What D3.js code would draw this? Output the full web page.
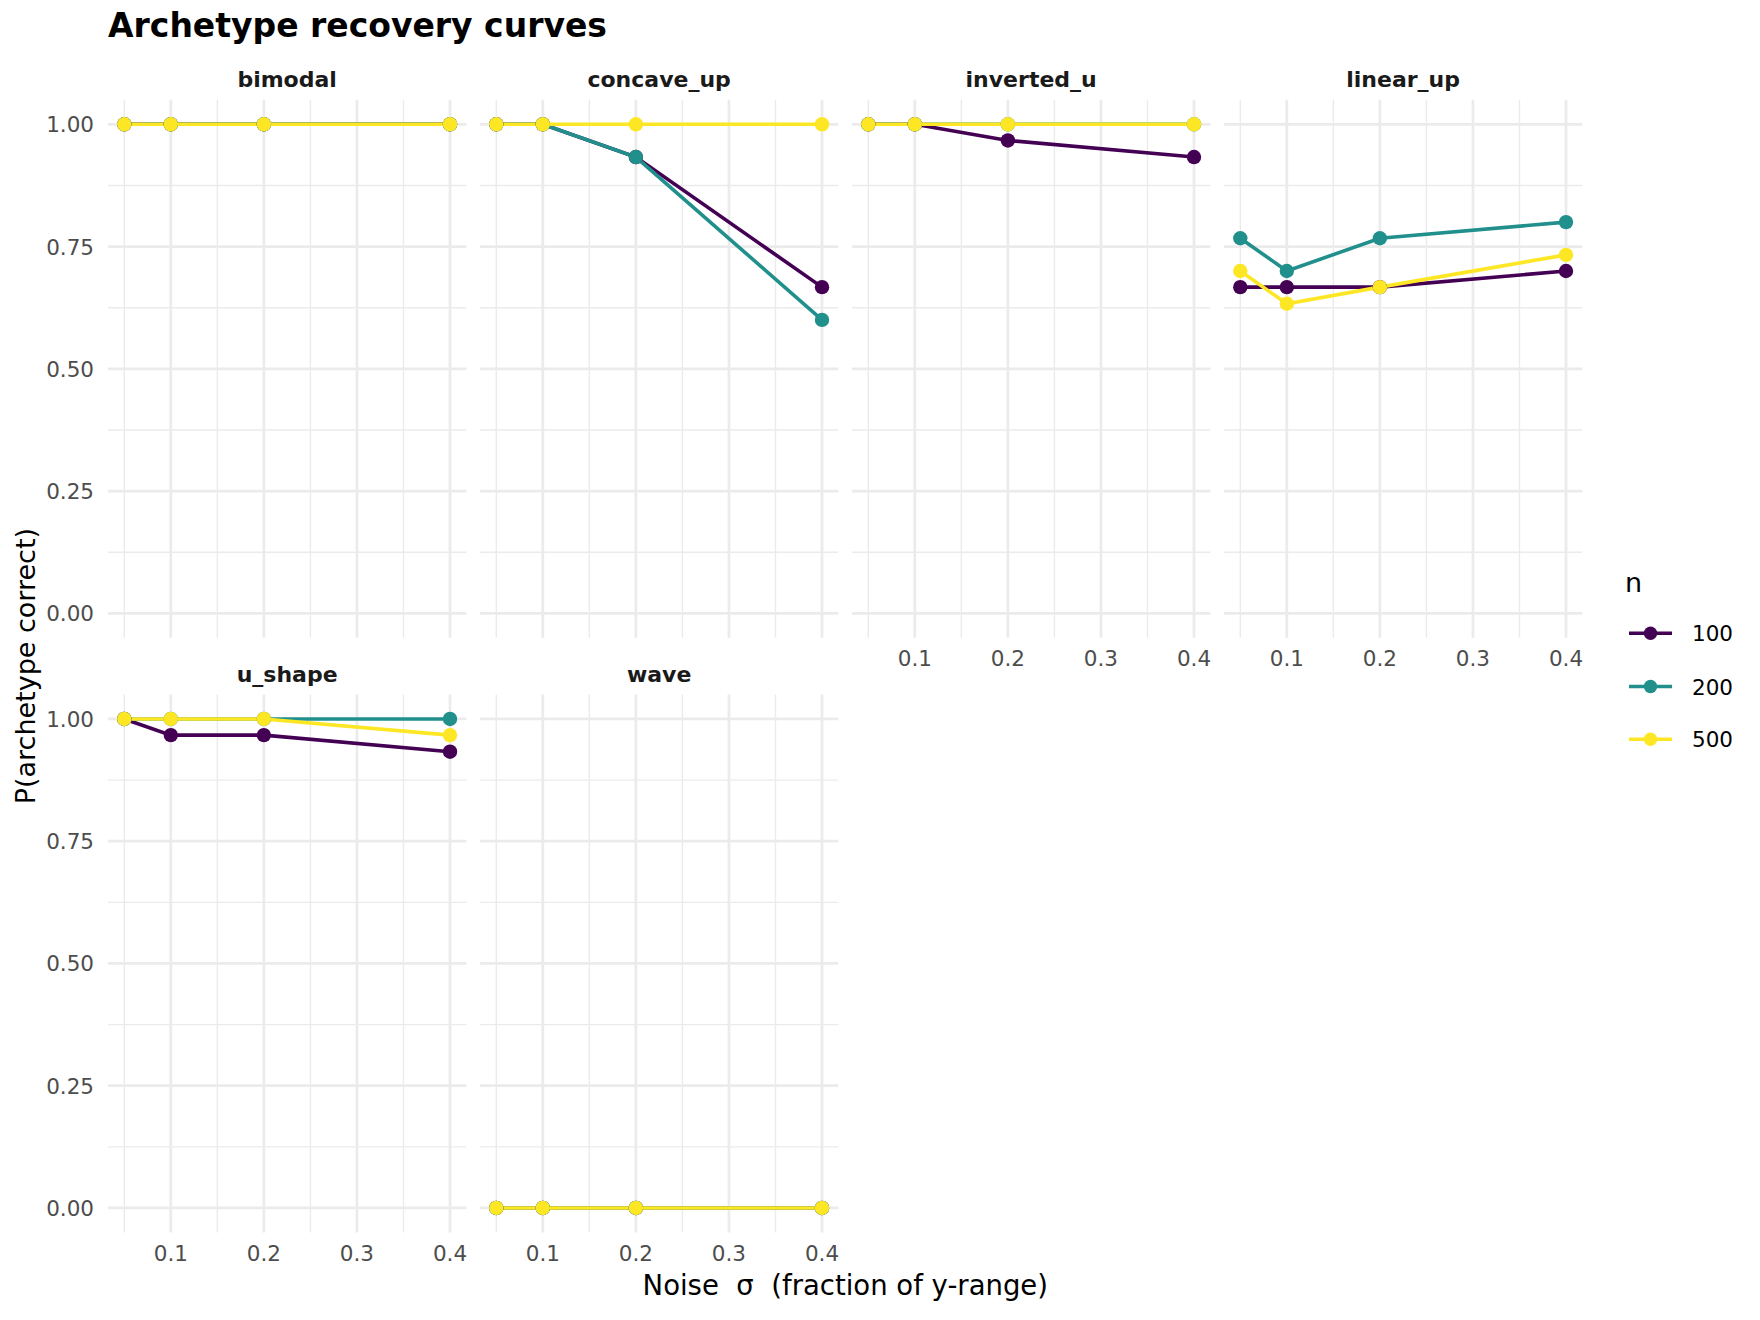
<!DOCTYPE html>
<meta charset="utf-8">
<style>
body {
  margin: 0;
  padding: 0;
  background: #fff;
}
text {
  font-family: "DejaVu Sans", sans-serif;
}
</style>
<body>
<script src="https://cdn.jsdelivr.net/npm/d3@7"></script>
<script>

// values
var archetypes = ["bimodal", "concave_up", "inverted_u", "linear_up", "u_shape", "wave"];
var sigma = [0.05, 0.1, 0.2, 0.4];
var nLevels = ["100", "200", "500"];
var nColors = ["#440154", "#21908C", "#FDE725"];

// one row per n (100, 200, 500), one value per sigma
var bimodal    = [[1, 1, 1, 1], [1, 1, 1, 1], [1, 1, 1, 1]];
var concave_up = [[1, 1, 0.933, 0.667], [1, 1, 0.933, 0.6], [1, 1, 1, 1]];
var inverted_u = [[1, 1, 0.967, 0.933], [1, 1, 1, 1], [1, 1, 1, 1]];
var linear_up  = [[0.667, 0.667, 0.667, 0.7], [0.767, 0.7, 0.767, 0.8], [0.7, 0.633, 0.667, 0.733]];
var u_shape    = [[1, 0.967, 0.967, 0.933], [1, 1, 1, 1], [1, 1, 1, 0.967]];
var wave       = [[0, 0, 0, 0], [0, 0, 0, 0], [0, 0, 0, 0]];

var xMajor = [0.1, 0.2, 0.3, 0.4],
    xMinor = [0.05, 0.15, 0.25, 0.35],
    yMajor = [0, 0.25, 0.5, 0.75, 1],
    yMinor = [0.125, 0.375, 0.625, 0.875];

var series = {
  bimodal: bimodal, concave_up: concave_up, inverted_u: inverted_u,
  linear_up: linear_up, u_shape: u_shape, wave: wave
};

var width = 1760,
    height = 1320,
    left = 108,
    panelW = 358.3,
    gapX = 13.7,
    rowTops = [99.85, 694.5],
    panelH = 537.9,
    ncol = 4;

var x = d3.scaleLinear().domain([0.0325, 0.4175]).range([0, panelW]);
var y = d3.scaleLinear().domain([-0.05, 1.05]).range([panelH, 0]);
var color = d3.scaleOrdinal().domain(nLevels).range(nColors);

var svg = d3.select("body").append("svg")
    .attr("width", width)
    .attr("height", height);

svg.append("text")
    .attr("x", 108)
    .attr("y", 36.7)
    .style("font-size", "33px")
    .style("font-weight", "bold")
    .text("Archetype recovery curves");

var line = d3.line()
    .x(function(d) { return x(d.s); })
    .y(function(d) { return y(d.v); });

archetypes.forEach(function(name, i) {
  var col = i % ncol,
      row = Math.floor(i / ncol),
      px = left + col * (panelW + gapX),
      py = rowTops[row];

  var g = svg.append("g").attr("transform", "translate(" + px + "," + py + ")");

  // grid
  g.selectAll(".xminor").data(xMinor).enter().append("line")
      .attr("x1", x).attr("x2", x).attr("y1", 0).attr("y2", panelH)
      .style("stroke", "#ebebeb").style("stroke-width", 1.4);
  g.selectAll(".yminor").data(yMinor).enter().append("line")
      .attr("y1", y).attr("y2", y).attr("x1", 0).attr("x2", panelW)
      .style("stroke", "#ebebeb").style("stroke-width", 1.4);
  g.selectAll(".xmajor").data(xMajor).enter().append("line")
      .attr("x1", x).attr("x2", x).attr("y1", 0).attr("y2", panelH)
      .style("stroke", "#ebebeb").style("stroke-width", 2.7);
  g.selectAll(".ymajor").data(yMajor).enter().append("line")
      .attr("y1", y).attr("y2", y).attr("x1", 0).attr("x2", panelW)
      .style("stroke", "#ebebeb").style("stroke-width", 2.7);

  // strip label
  g.append("text")
      .attr("x", panelW / 2)
      .attr("y", -13)
      .attr("text-anchor", "middle")
      .style("font-size", "22px")
      .style("font-weight", "bold")
      .style("fill", "#1a1a1a")
      .text(name);

  var rows = series[name].map(function(vals, k) {
    return { n: nLevels[k], pts: vals.map(function(v, j) { return { s: sigma[j], v: v }; }) };
  });

  g.selectAll(".curve").data(rows).enter().append("path")
      .attr("d", function(d) { return line(d.pts); })
      .style("fill", "none")
      .style("stroke", function(d) { return color(d.n); })
      .style("stroke-width", 3.6);

  rows.forEach(function(r) {
    g.selectAll(null).data(r.pts).enter().append("circle")
        .attr("cx", function(d) { return x(d.s); })
        .attr("cy", function(d) { return y(d.v); })
        .attr("r", 7.2)
        .style("fill", color(r.n));
  });

  // y axis labels on first column
  if (col === 0) {
    g.selectAll(".ylab").data(yMajor).enter().append("text")
        .attr("x", -14)
        .attr("y", function(d) { return y(d) + 8; })
        .attr("text-anchor", "end")
        .style("font-size", "21.5px")
        .style("fill", "#4d4d4d")
        .text(d3.format(".2f"));
  }

  // x axis labels where no panel sits below
  if (row === 1 || i + ncol >= archetypes.length) {
    g.selectAll(".xlab").data(xMajor).enter().append("text")
        .attr("x", x)
        .attr("y", panelH + 28.3)
        .attr("text-anchor", "middle")
        .style("font-size", "21.5px")
        .style("fill", "#4d4d4d")
        .text(function(d) { return d; });
  }
});

// axis titles
svg.append("text")
    .attr("x", 845.3)
    .attr("y", 1295)
    .attr("text-anchor", "middle")
    .style("font-size", "27.5px")
    .style("white-space", "pre")
    .text("Noise  \u03c3  (fraction of y-range)");

svg.append("text")
    .attr("transform", "translate(35," + ((rowTops[0] + rowTops[1] + panelH) / 2) + ") rotate(-90)")
    .attr("text-anchor", "middle")
    .style("font-size", "27px")
    .text("P(archetype correct)");

// legend
var legend = svg.append("g").attr("transform", "translate(1625,0)");
legend.append("text")
    .attr("x", 0)
    .attr("y", 591.7)
    .style("font-size", "27px")
    .text("n");

var keyY = [633.3, 686.5, 739.3];
nLevels.forEach(function(n, k) {
  legend.append("line")
      .attr("x1", 4).attr("x2", 47)
      .attr("y1", keyY[k]).attr("y2", keyY[k])
      .style("stroke", color(n))
      .style("stroke-width", 3.6);
  legend.append("circle")
      .attr("cx", 25.5).attr("cy", keyY[k]).attr("r", 6.7)
      .style("fill", color(n));
  legend.append("text")
      .attr("x", 67)
      .attr("y", keyY[k] + 8)
      .style("font-size", "21.5px")
      .text(n);
});

</script>
